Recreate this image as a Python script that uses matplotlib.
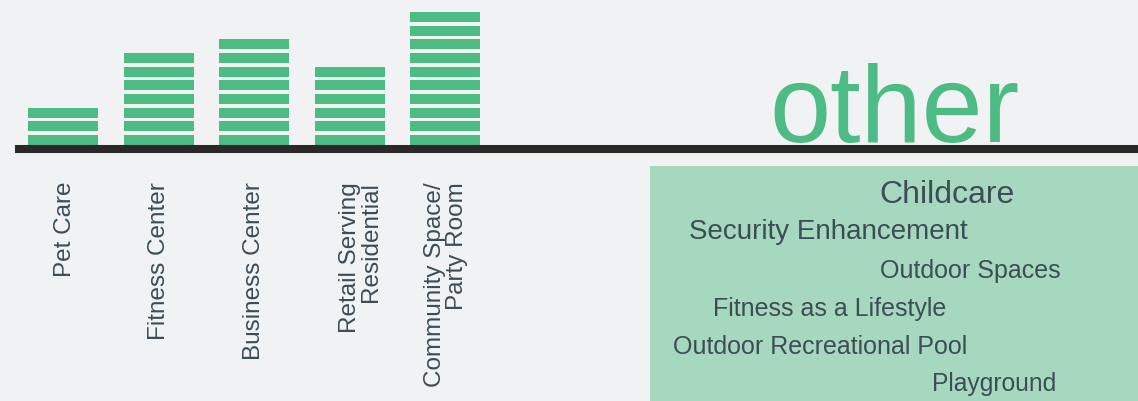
#!/usr/bin/env python

## amenity counts drawn as striped bars, plus a panel of "other" answers
import numpy as np
import matplotlib.pyplot as plt
import matplotlib.transforms as mtransforms

categories = ['Pet Care', 'Fitness Center', 'Business Center',
              'Retail Serving\nResidential', 'Community Space/\nParty Room']
counts = [3, 7, 8, 6, 10]

other_items = ['Childcare', 'Security Enhancement', 'Outdoor Spaces',
               'Fitness as a Lifestyle', 'Outdoor Recreational Pool', 'Playground']

bg = '#f1f2f4'
green = '#4cbb84'
light_green = '#a6d8bf'
text_col = '#3d4d55'

W, H = 1138, 402
fig = plt.figure(figsize=(W / 100, H / 100), dpi=100, facecolor=bg)

# main axes: from the left end of the baseline to the right edge, top of figure down to the line
ax = fig.add_axes([15 / W, (H - 150) / H, 1 - 15 / W, 150 / H])
ax.set_facecolor(bg)

pos = np.arange(len(categories))
for i, n in enumerate(counts):
    # one thin bar per unit, stacked with a small gap
    ax.bar(np.full(n, pos[i]), 0.73, bottom=np.arange(n), width=0.733,
           color=green, linewidth=0, align='center')

ax.set_xlim(-0.503, 11.257)
ax.set_ylim(-0.293, 10.68)

for s in ['top', 'left', 'right']:
    ax.spines[s].set_visible(False)
ax.spines['bottom'].set_linewidth(5.8)
ax.spines['bottom'].set_color('#2b2829')
ax.spines['bottom'].set_capstyle('butt')

ax.set_yticks([])
ax.set_xticks(pos)
ax.set_xticklabels(categories, rotation=90, ha='center', va='top',
                   multialignment='right', linespacing=0.95,
                   fontsize=17.5, color=text_col, family='Liberation Sans')
ax.tick_params(axis='x', length=0, pad=23)

# the labels in the original sit a little off the bar centres
shifts = [2, 0, 0, 11, 1]
for lab, dx in zip(ax.get_xticklabels(), shifts):
    lab.set_transform(lab.get_transform() +
                      mtransforms.ScaledTranslation(dx / 100, 0, fig.dpi_scale_trans))

# big "other" title
fig.text(894.5 / W, (H - 142) / H, 'other', ha='center', va='baseline',
         fontsize=79, color=green, family='Liberation Sans')

# panel with the write-in answers
box = fig.add_axes([650 / W, 0, (W - 650) / W, 235 / H])
box.set_facecolor(light_green)
for s in box.spines.values():
    s.set_visible(False)
box.set_xticks([])
box.set_yticks([])

xs = [0.609, 0.366, 0.657, 0.369, 0.348, 0.705]
ys = [0.847, 0.694, 0.528, 0.366, 0.204, 0.047]
sizes = [23, 20, 18, 18, 18, 17.7]
for label, x, y, fs in zip(other_items, xs, ys, sizes):
    box.text(x, y, label, transform=box.transAxes, ha='center', va='baseline',
             fontsize=fs, color=text_col, family='Liberation Sans')

fig.savefig('out.png', dpi=100, facecolor=bg)
